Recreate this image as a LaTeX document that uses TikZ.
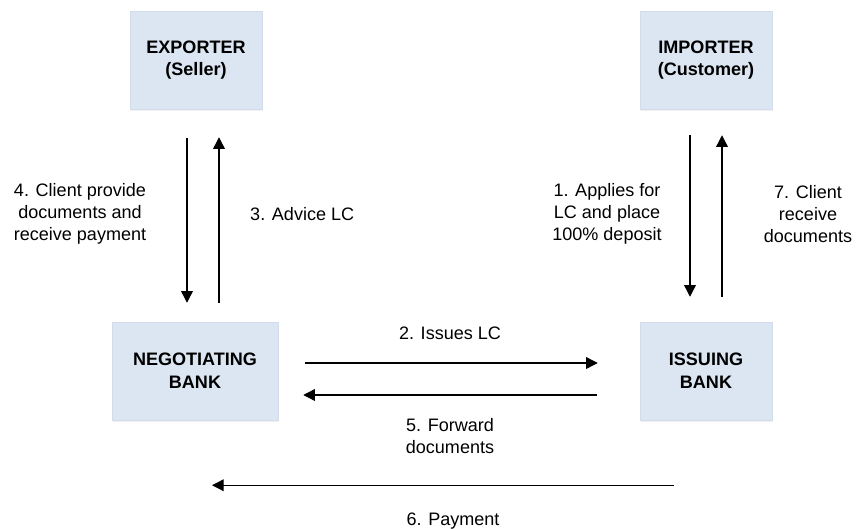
\documentclass[tikz,border=0pt]{standalone}
\usepackage{fontspec}
\setmainfont{Liberation Sans}
\usepackage{tikz}
\usetikzlibrary{calc,arrows.meta,shadows}
\definecolor{boxblue}{RGB}{220,230,242}
\definecolor{boxedge}{RGB}{210,220,235}
\begin{document}
\begin{tikzpicture}[x=0.03cm,y=-0.03cm,>={Triangle[length=10pt,width=10pt]},
    font=\fontsize{15.4}{19}\selectfont]
        \tikzstyle{party}=[draw=boxedge,fill=boxblue,line width=0.4pt,align=center,
            font=\fontsize{15.4}{19.5}\selectfont\bfseries,minimum height=2.94cm,
            drop shadow={shadow xshift=0.6pt,shadow yshift=-1.8pt,opacity=0.12}]
        \tikzstyle{flow}=[line width=1.1pt]
        \tikzstyle{label}=[align=center,inner sep=0pt]
        \useasboundingbox (0,0) rectangle (856,529);

        % Parties
        \node (exporter)[party,minimum width=3.96cm] at (196,60) {EXPORTER\\(Seller)};
        \node (importer)[party,minimum width=3.96cm] at (706,60) {IMPORTER\\(Customer)};
        \node (nego)[party,minimum width=4.98cm] at (195,371) {NEGOTIATING\\BANK};
        \node (issuing)[party,minimum width=3.96cm] at (706,371) {ISSUING\\BANK};

        % Exporter side
        \draw[flow,->] ($(exporter.south)+(-9,29)$) -- ($(nego.north)+(-8,-19)$);
        \draw[flow,->] ($(nego.north)+(24,-19)$) -- ($(exporter.south)+(23,28)$);
        \node (advice4)[label] at (80,214) {4. Client provide\\documents and\\receive payment};
        \node (advice3)[label,anchor=west] at (250,214) {3. Advice LC};

        % Importer side
        \draw[flow,->] ($(importer.south)+(-16,26)$) -- ($(issuing.north)+(-16,-25)$);
        \draw[flow,->] ($(issuing.north)+(16,-25)$) -- ($(importer.south)+(16,26)$);
        \node (applies1)[label] at (607,214) {1. Applies for\\LC and place\\100\% deposit};
        \node (receive7)[label] at (808,214) {7. Client\\receive\\documents};

        % Between the banks
        \draw[flow,->] ($(nego.east)+(27,-8)$) -- ($(issuing.west)+(-42,-8)$);
        \draw[flow,->] ($(issuing.west)+(-43,24)$) -- ($(nego.east)+(25,24)$);
        \node (issues2)[label] at (450,333) {2. Issues LC};
        \node (forward5)[label] at (450,436) {5. Forward\\documents};

        % Payment
        \draw[flow,->] ($(issuing.south)+(-32,65)$) -- ($(nego.south)+(17,65)$);
        \node (payment6)[label] at (453,521) {6. Payment};
    \end{tikzpicture}
\end{document}
